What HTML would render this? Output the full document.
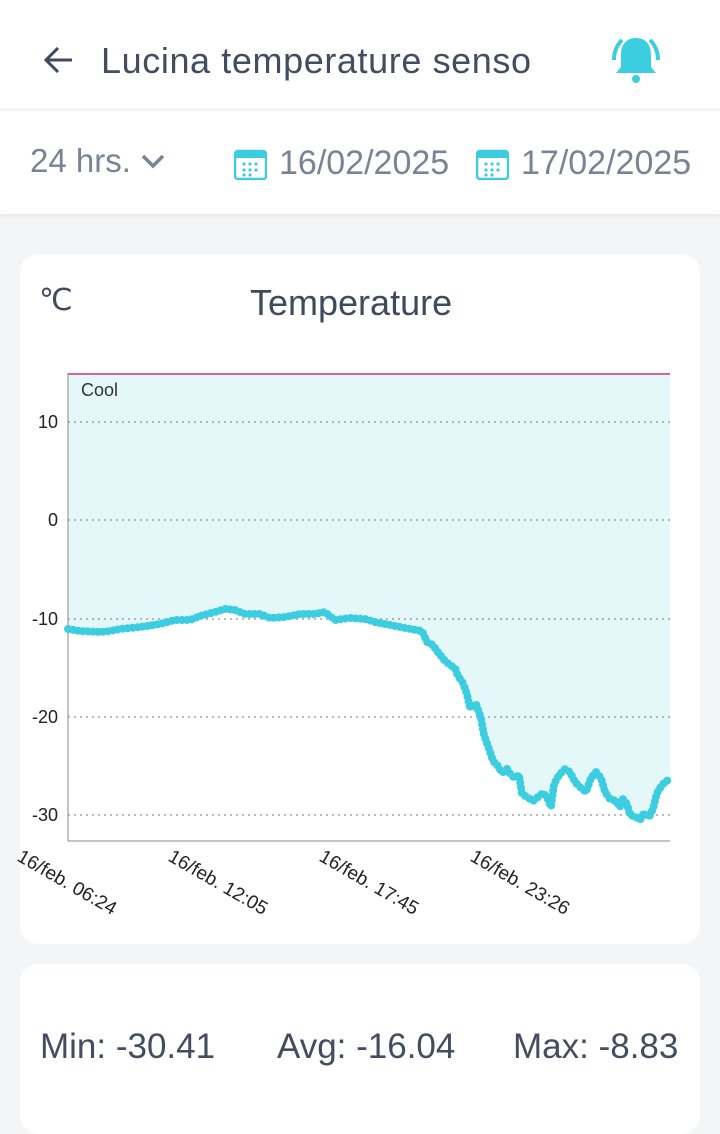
<!DOCTYPE html><html><head><style>
body{margin:0;width:720px;height:1111px;background:#f4f5f7;font-family:"Liberation Sans",sans-serif;position:relative;overflow:hidden}
.hdr{position:absolute;left:0;top:0;width:720px;height:108px;background:#fff}
.bar{position:absolute;left:0;top:111px;width:720px;height:103px;background:#fff;box-shadow:0 2px 4px rgba(0,0,0,.06)}
.card{position:absolute;background:#fff;border-radius:18px}
.t{position:absolute;white-space:nowrap}
</style></head><body>
<div class="hdr"></div>
<svg class="t" style="left:40px;top:44px" width="36" height="32"><path d="M32 16H6M18 4L6 16l12 12" stroke="#3f4a5c" stroke-width="3" fill="none"/></svg>
<div class="t" style="left:101px;top:40px;font-size:36px;letter-spacing:0.6px;color:#434d5f">Lucina temperature senso</div>
<svg class="t" style="left:604px;top:32px" width="64" height="56"><path d="M32 6c-10 0-15 7-15 17v12l-5 6h40l-5-6V23c0-10-5-17-15-17z" fill="#3ccde0"/><circle cx="32" cy="47" r="4" fill="#3ccde0"/><path d="M10 28c0-9 3-15 8-20M54 28c0-9-3-15-8-20" stroke="#3ccde0" stroke-width="4" fill="none"/></svg>
<div class="bar"></div>
<div class="t" style="left:30px;top:142px;font-size:33px;color:#7a8396">24 hrs.</div>
<svg class="t" style="left:140px;top:152px" width="26" height="20"><path d="M3 4l10 10 10-10" stroke="#7a8396" stroke-width="3.5" fill="none"/></svg>
<svg class="t" style="left:234px;top:148px" width="33" height="32"><rect x="1" y="3" width="31" height="28" rx="3" fill="none" stroke="#3ccde0" stroke-width="2.5"/><rect x="1" y="3" width="31" height="7" fill="#3ccde0"/><g fill="#3ccde0"><circle cx="10" cy="16" r="1.6"/><circle cx="16" cy="16" r="1.6"/><circle cx="22" cy="16" r="1.6"/><circle cx="10" cy="22" r="1.6"/><circle cx="16" cy="22" r="1.6"/><circle cx="22" cy="22" r="1.6"/><circle cx="10" cy="27" r="1.6"/><circle cx="16" cy="27" r="1.6"/></g></svg>
<div class="t" style="left:279px;top:144px;font-size:34px;color:#7a8396">16/02/2025</div>
<svg class="t" style="left:476px;top:148px" width="33" height="32"><rect x="1" y="3" width="31" height="28" rx="3" fill="none" stroke="#3ccde0" stroke-width="2.5"/><rect x="1" y="3" width="31" height="7" fill="#3ccde0"/><g fill="#3ccde0"><circle cx="10" cy="16" r="1.6"/><circle cx="16" cy="16" r="1.6"/><circle cx="22" cy="16" r="1.6"/><circle cx="10" cy="22" r="1.6"/><circle cx="16" cy="22" r="1.6"/><circle cx="22" cy="22" r="1.6"/><circle cx="10" cy="27" r="1.6"/><circle cx="16" cy="27" r="1.6"/></g></svg>
<div class="t" style="left:521px;top:144px;font-size:34px;color:#7a8396">17/02/2025</div>
<div class="card" style="left:20px;top:254px;width:680px;height:690px"></div>
<div class="t" style="left:39px;top:283px;font-size:30px;color:#3f4a5c">℃</div>
<div class="t" style="left:250px;top:282px;font-size:36px;color:#3f4a5c">Temperature</div>
<svg class="t" style="left:0;top:0" width="720" height="944">
<defs><polyline id="ln" points="68,629 80,631 100,632 110,631 120,629 140,627 160,624 175,620 190,620 200,616 215,612 225,609 235,610 245,614 260,614 270,618 285,617 300,614 315,614 325,612 335,620 350,618 365,619 375,622 390,625 405,628 422,631 427,642 433,645 437,651 445,661 450,665 455,668 458,676 463,683 467,694 470,708 476,704 481,718 484,735 489,749 493,761 498,766 502,773 507,769 511,775 515,778 519,775 522,794 527,797 533,801 538,797 543,793 547,797 551,807 554,784 559,775 565,769 570,772 575,782 581,788 586,792 591,778 596,772 601,778 605,792 610,799 616,801 620,807 622,798 627,804 630,815 636,817 640,820 644,813 649,817 653,809 657,793 662,785 666,781 670,780"/></defs>
<polygon points="68,373 670,373 670,780 666,781 662,785 657,793 653,809 649,817 644,813 640,820 636,817 630,815 627,804 622,798 620,807 616,801 610,799 605,792 601,778 596,772 591,778 586,792 581,788 575,782 570,772 565,769 559,775 554,784 551,807 547,797 543,793 538,797 533,801 527,797 522,794 519,775 515,778 511,775 507,769 502,773 498,766 493,761 489,749 484,735 481,718 476,704 470,708 467,694 463,683 458,676 455,668 450,665 445,661 437,651 433,645 427,642 422,631 405,628 390,625 375,622 365,619 350,618 335,620 325,612 315,614 300,614 285,617 270,618 260,614 245,614 235,610 225,609 215,612 200,616 190,620 175,620 160,624 140,627 120,629 110,631 100,632 80,631 68,629" fill="#e4f8fa"/>
<g stroke="#777" stroke-width="1" stroke-dasharray="2,4"><line x1="68" y1="422" x2="670" y2="422"/><line x1="68" y1="520" x2="670" y2="520"/><line x1="68" y1="619" x2="670" y2="619"/><line x1="68" y1="717" x2="670" y2="717"/><line x1="68" y1="815" x2="670" y2="815"/></g>
<line x1="68" y1="373" x2="68" y2="841" stroke="#888"/><line x1="68" y1="841" x2="670" y2="841" stroke="#888"/>
<line x1="68" y1="374" x2="670" y2="374" stroke="#e0609a" stroke-width="2"/>
<use href="#ln" fill="none" stroke="#3ccde0" stroke-dasharray="0.01,5" stroke-linecap="round" style="stroke-width:8"/>
<use href="#ln" fill="none" stroke="#3ccde0" stroke-width="5" stroke-linejoin="round"/>
<g font-size="18" fill="#222" text-anchor="end"><text x="58" y="428">10</text><text x="58" y="526">0</text><text x="58" y="625">-10</text><text x="58" y="723">-20</text><text x="58" y="821">-30</text></g>
<text x="81" y="396" font-size="18" fill="#333">Cool</text>
<g font-size="19" fill="#222"><text transform="translate(16,860) rotate(30)">16/feb. 06:24</text><text transform="translate(167,860) rotate(30)">16/feb. 12:05</text><text transform="translate(318,860) rotate(30)">16/feb. 17:45</text><text transform="translate(469,860) rotate(30)">16/feb. 23:26</text></g>
</svg>
<div class="card" style="left:20px;top:964px;width:680px;height:170px"></div>
<div class="t" style="left:40px;top:1027px;font-size:35px;color:#434d5f">Min: -30.41</div>
<div class="t" style="left:277px;top:1027px;font-size:35px;color:#434d5f">Avg: -16.04</div>
<div class="t" style="left:513px;top:1027px;font-size:35px;color:#434d5f">Max: -8.83</div>
</body></html>
